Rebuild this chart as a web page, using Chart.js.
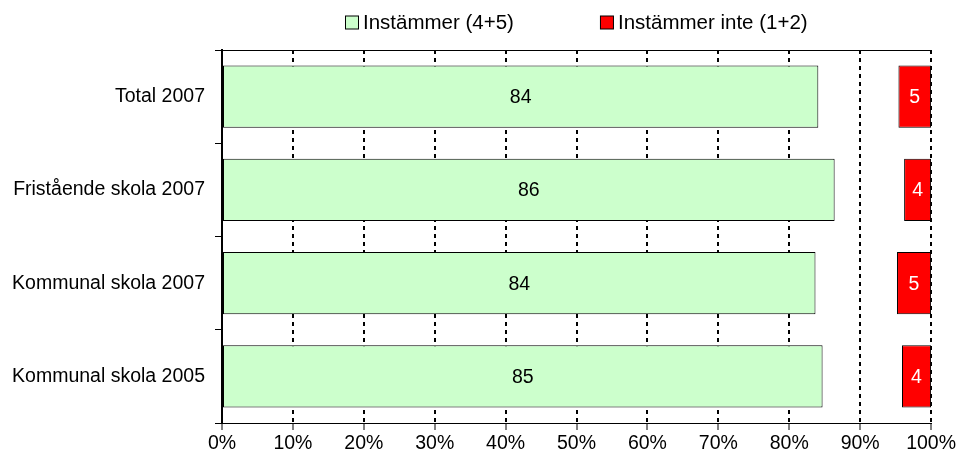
<!DOCTYPE html>
<html>
<head>
<meta charset="utf-8">
<script src="https://cdn.jsdelivr.net/npm/chart.js@4.4.0/dist/chart.umd.min.js"></script>
<style>
  html, body { margin: 0; padding: 0; background: #fff; }
  #wrap { width: 958px; height: 461px; position: relative; }
  canvas { display: block; }
</style>
</head>
<body>
<div id="wrap"><canvas id="c" width="958" height="461" style="width:958px;height:461px"></canvas></div>
<script>
const categories = ['Total 2007', 'Fristående skola 2007', 'Kommunal skola 2007', 'Kommunal skola 2005'];
const agree = [84.1, 86.4, 83.7, 84.7];
const notAgree = [4.6, 3.8, 4.8, 4.1];
const seriesNames = ['Instämmer (4+5)', 'Instämmer inte (1+2)'];
const xTicks = [0, 10, 20, 30, 40, 50, 60, 70, 80, 90, 100];

const FONT = '"Liberation Sans", Arial, sans-serif';
const FS = 19.5;
const LFS = 20.5;

const labelPlugin = {
  id: 'barLabels',
  afterDatasetsDraw(chart) {
    const ctx = chart.ctx;
    ctx.save();
    ctx.font = FS + 'px ' + FONT;
    ctx.textAlign = 'center';
    ctx.textBaseline = 'middle';
    chart.data.datasets.forEach((ds, di) => {
      const meta = chart.getDatasetMeta(di);
      meta.data.forEach((el, i) => {
        const raw = di === 0 ? agree[i] : notAgree[i];
        const cx = (el.x + el.base) / 2;
        ctx.fillStyle = ds.labelColor;
        ctx.fillText(String(Math.round(raw)), cx, el.y + 1);
      });
    });
    ctx.restore();
  }
};

const framePlugin = {
  id: 'frame',
  afterDraw(chart) {
    const ctx = chart.ctx;
    const a = chart.chartArea;
    ctx.save();
    ctx.strokeStyle = '#000';
    ctx.lineWidth = 1;
    ctx.beginPath();
    ctx.moveTo(a.left - 7, a.top + 0.5);
    ctx.lineTo(a.right, a.top + 0.5);
    ctx.stroke();
    // legend
    ctx.font = LFS + 'px ' + FONT;
    ctx.textBaseline = 'middle';
    ctx.textAlign = 'left';
    const box = 13, gap = 5, spacing = 86;
    const widths = chart.data.datasets.map(d => ctx.measureText(d.label).width);
    let total = 0;
    widths.forEach((w, i) => { total += box + gap + w + (i ? spacing : 0); });
    let x = Math.round((a.left + a.right) / 2 - total / 2);
    const y = 22;
    chart.data.datasets.forEach((d, i) => {
      ctx.fillStyle = d.backgroundColor;
      ctx.fillRect(x + 0.5, y - box / 2 + 0.5, box, box);
      ctx.strokeStyle = '#000';
      ctx.strokeRect(x + 0.5, y - box / 2 + 0.5, box, box);
      ctx.fillStyle = '#000';
      ctx.fillText(d.label, x + box + gap, y + 1);
      x += box + gap + widths[i] + spacing;
    });
    ctx.restore();
  }
};

new Chart(document.getElementById('c'), {
  type: 'bar',
  data: {
    labels: categories,
    datasets: [
      {
        label: seriesNames[0],
        data: agree.map(v => [0, v]),
        backgroundColor: '#CCFFCC',
        borderColor: '#000',
        borderWidth: 1,
        borderSkipped: false,
        labelColor: '#000',
        grouped: false
      },
      {
        label: seriesNames[1],
        data: notAgree.map(v => [100 - v, 100]),
        backgroundColor: '#FF0000',
        borderColor: '#000',
        borderWidth: 1,
        borderSkipped: false,
        labelColor: '#fff',
        grouped: false
      }
    ]
  },
  options: {
    indexAxis: 'y',
    responsive: false,
    animation: false,
    devicePixelRatio: 1,
    categoryPercentage: 1,
    barPercentage: 0.667,
    layout: { padding: { top: 50, right: 25, bottom: 0, left: 0 } },
    plugins: { legend: { display: false }, tooltip: { enabled: false } },
    scales: {
      x: {
        min: 0, max: 100,
        afterBuildTicks(scale) { scale.ticks = xTicks.map(v => ({ value: v })); },
        afterFit(scale) { scale.height = 38; },
        ticks: {
          callback: v => v + '%',
          color: '#000',
          font: { family: FONT, size: FS },
          padding: 2,
          maxRotation: 0,
          autoSkip: false
        },
        grid: {
          color: '#000',
          lineWidth: 2,
          tickColor: '#000',
          tickWidth: 1,
          tickLength: 7,
          tickBorderDash: []
        },
        border: { display: true, color: '#000', width: 1, dash: [4, 4] }
      },
      y: {
        afterFit(scale) { scale.width = 222; },
        ticks: {
          color: '#000',
          font: { family: FONT, size: FS },
          padding: 10
        },
        grid: {
          offset: true,
          drawOnChartArea: false,
          color: '#000',
          tickColor: '#000',
          tickLength: 7
        },
        border: { display: true, color: '#000', width: 2 }
      }
    }
  },
  plugins: [labelPlugin, framePlugin]
});
</script>
</body>
</html>
